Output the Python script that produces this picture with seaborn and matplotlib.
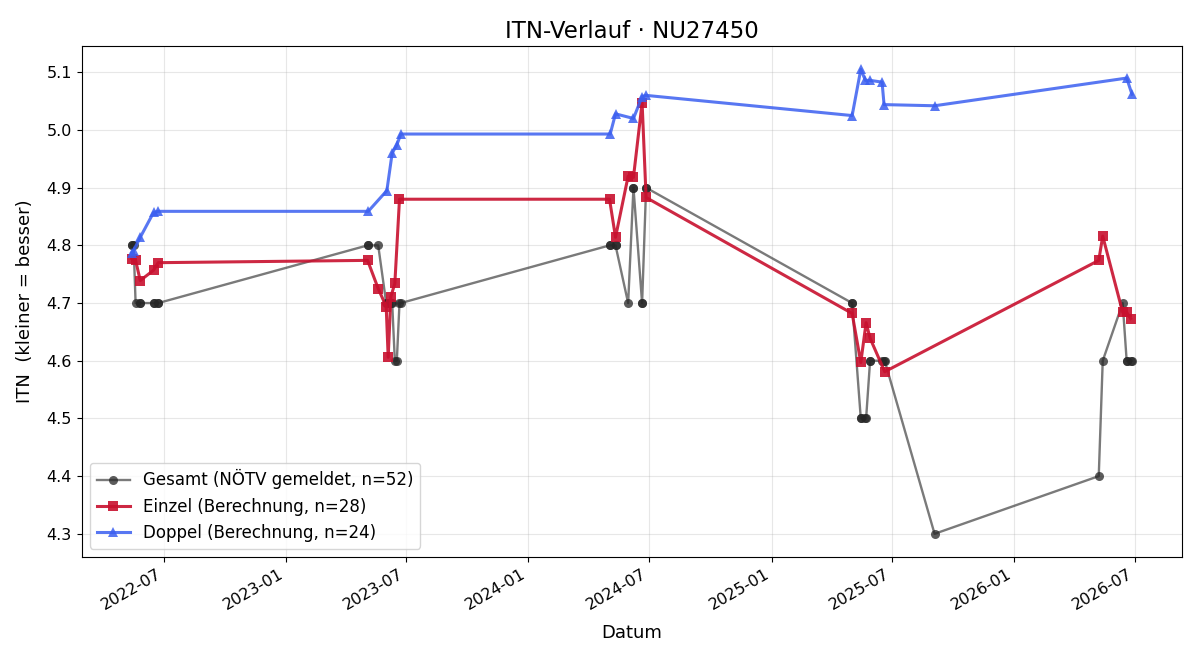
import pandas as pd
import matplotlib
matplotlib.use("Agg")
import matplotlib.pyplot as plt
import matplotlib.dates as mdates
import seaborn as sns

# --- 1. Data ---
gesamt_dates = [
    "2022-05-14", "2022-05-14", "2022-05-17", "2022-05-20", "2022-05-27", "2022-05-27",
    "2022-06-16", "2022-06-16", "2022-06-23", "2022-06-23",
    "2023-05-04", "2023-05-05", "2023-05-20", "2023-06-01", "2023-06-02", "2023-06-04",
    "2023-06-08", "2023-06-10", "2023-06-14", "2023-06-17", "2023-06-21", "2023-06-23",
    "2024-05-02", "2024-05-03", "2024-05-11", "2024-05-11", "2024-05-30", "2024-06-07",
    "2024-06-07", "2024-06-20", "2024-06-20", "2024-06-26", "2024-06-26",
    "2025-05-02", "2025-05-02", "2025-05-15", "2025-05-15", "2025-05-22", "2025-05-23",
    "2025-05-29", "2025-05-29", "2025-06-16", "2025-06-19", "2025-06-20", "2025-09-03",
    "2026-05-08", "2026-05-14", "2026-06-13", "2026-06-19", "2026-06-19", "2026-06-25",
    "2026-06-27",
]
gesamt_itn = [
    4.8, 4.8, 4.8, 4.7, 4.7, 4.7, 4.7, 4.7, 4.7, 4.7,
    4.8, 4.8, 4.8, 4.7, 4.7, 4.7, 4.7, 4.7, 4.6, 4.6, 4.7, 4.7,
    4.8, 4.8, 4.8, 4.8, 4.7, 4.9, 4.9, 4.7, 4.7, 4.9, 4.9,
    4.7, 4.7, 4.5, 4.5, 4.5, 4.5, 4.6, 4.6, 4.6, 4.6, 4.6, 4.3,
    4.4, 4.6, 4.7, 4.6, 4.6, 4.6, 4.6,
]

einzel_dates = [
    "2022-05-14", "2022-05-20", "2022-05-27", "2022-06-16", "2022-06-23",
    "2023-05-04", "2023-05-20", "2023-06-01", "2023-06-04", "2023-06-08", "2023-06-14",
    "2023-06-21",
    "2024-05-02", "2024-05-11", "2024-05-30", "2024-06-07", "2024-06-20", "2024-06-26",
    "2025-05-02", "2025-05-15", "2025-05-23", "2025-05-29", "2025-06-20",
    "2026-05-08", "2026-05-14", "2026-06-13", "2026-06-19", "2026-06-25",
]
einzel_itn = [
    4.777, 4.774, 4.739, 4.757, 4.770,
    4.774, 4.725, 4.694, 4.606, 4.711, 4.734, 4.880,
    4.880, 4.814, 4.920, 4.918, 5.047, 4.883,
    4.682, 4.597, 4.666, 4.639, 4.581,
    4.774, 4.816, 4.684, 4.684, 4.673,
]

doppel_dates = [
    "2022-05-14", "2022-05-17", "2022-05-27", "2022-06-16", "2022-06-23",
    "2023-05-05", "2023-06-02", "2023-06-10", "2023-06-17", "2023-06-23",
    "2024-05-03", "2024-05-11", "2024-06-07", "2024-06-20", "2024-06-26",
    "2025-05-02", "2025-05-15", "2025-05-22", "2025-05-29", "2025-06-16", "2025-06-19",
    "2025-09-03",
    "2026-06-19", "2026-06-27",
]
doppel_itn = [
    4.787, 4.791, 4.814, 4.857, 4.859,
    4.859, 4.895, 4.960, 4.974, 4.993,
    4.993, 5.028, 5.020, 5.058, 5.060,
    5.025, 5.105, 5.086, 5.086, 5.083, 5.044, 5.042,
    5.090, 5.062,
]

gesamt = pd.DataFrame({"Datum": pd.to_datetime(gesamt_dates), "ITN": gesamt_itn})
einzel = pd.DataFrame({"Datum": pd.to_datetime(einzel_dates), "ITN": einzel_itn})
doppel = pd.DataFrame({"Datum": pd.to_datetime(doppel_dates), "ITN": doppel_itn})

# --- 2. Plot ---
fig, ax = plt.subplots(figsize=(12, 6.6), dpi=100)

sns.lineplot(data=gesamt, x="Datum", y="ITN", ax=ax, estimator=None, sort=False,
             color="#4d4d4d", alpha=0.75, linewidth=1.7, marker="o", markersize=6.5,
             markerfacecolor="#262626", markeredgewidth=0,
             label=f"Gesamt (NÖTV gemeldet, n={len(gesamt)})")
sns.lineplot(data=einzel, x="Datum", y="ITN", ax=ax, estimator=None, sort=False,
             color="#c8102e", alpha=0.9, linewidth=2.2, marker="s", markersize=7.5,
             markeredgewidth=0, label=f"Einzel (Berechnung, n={len(einzel)})")
sns.lineplot(data=doppel, x="Datum", y="ITN", ax=ax, estimator=None, sort=False,
             color="#3b5ff0", alpha=0.85, linewidth=2.2, marker="^", markersize=7.5,
             markeredgewidth=0, label=f"Doppel (Berechnung, n={len(doppel)})")

ax.set_title("ITN-Verlauf · NU27450", fontsize=16.5)
ax.set_xlabel("Datum", fontsize=13, labelpad=8)
ax.set_ylabel("ITN  (kleiner = besser)", fontsize=13, labelpad=9)
ax.grid(True, alpha=0.3)
ax.xaxis.set_major_locator(mdates.MonthLocator(bymonth=[1, 7]))
ax.xaxis.set_major_formatter(mdates.DateFormatter("%Y-%m"))
ax.tick_params(labelsize=11.5)
ax.legend(loc="lower left", fontsize=12)
fig.autofmt_xdate()

fig.subplots_adjust(left=0.068, right=0.985, top=0.930, bottom=0.156)
plt.savefig("out.png")
